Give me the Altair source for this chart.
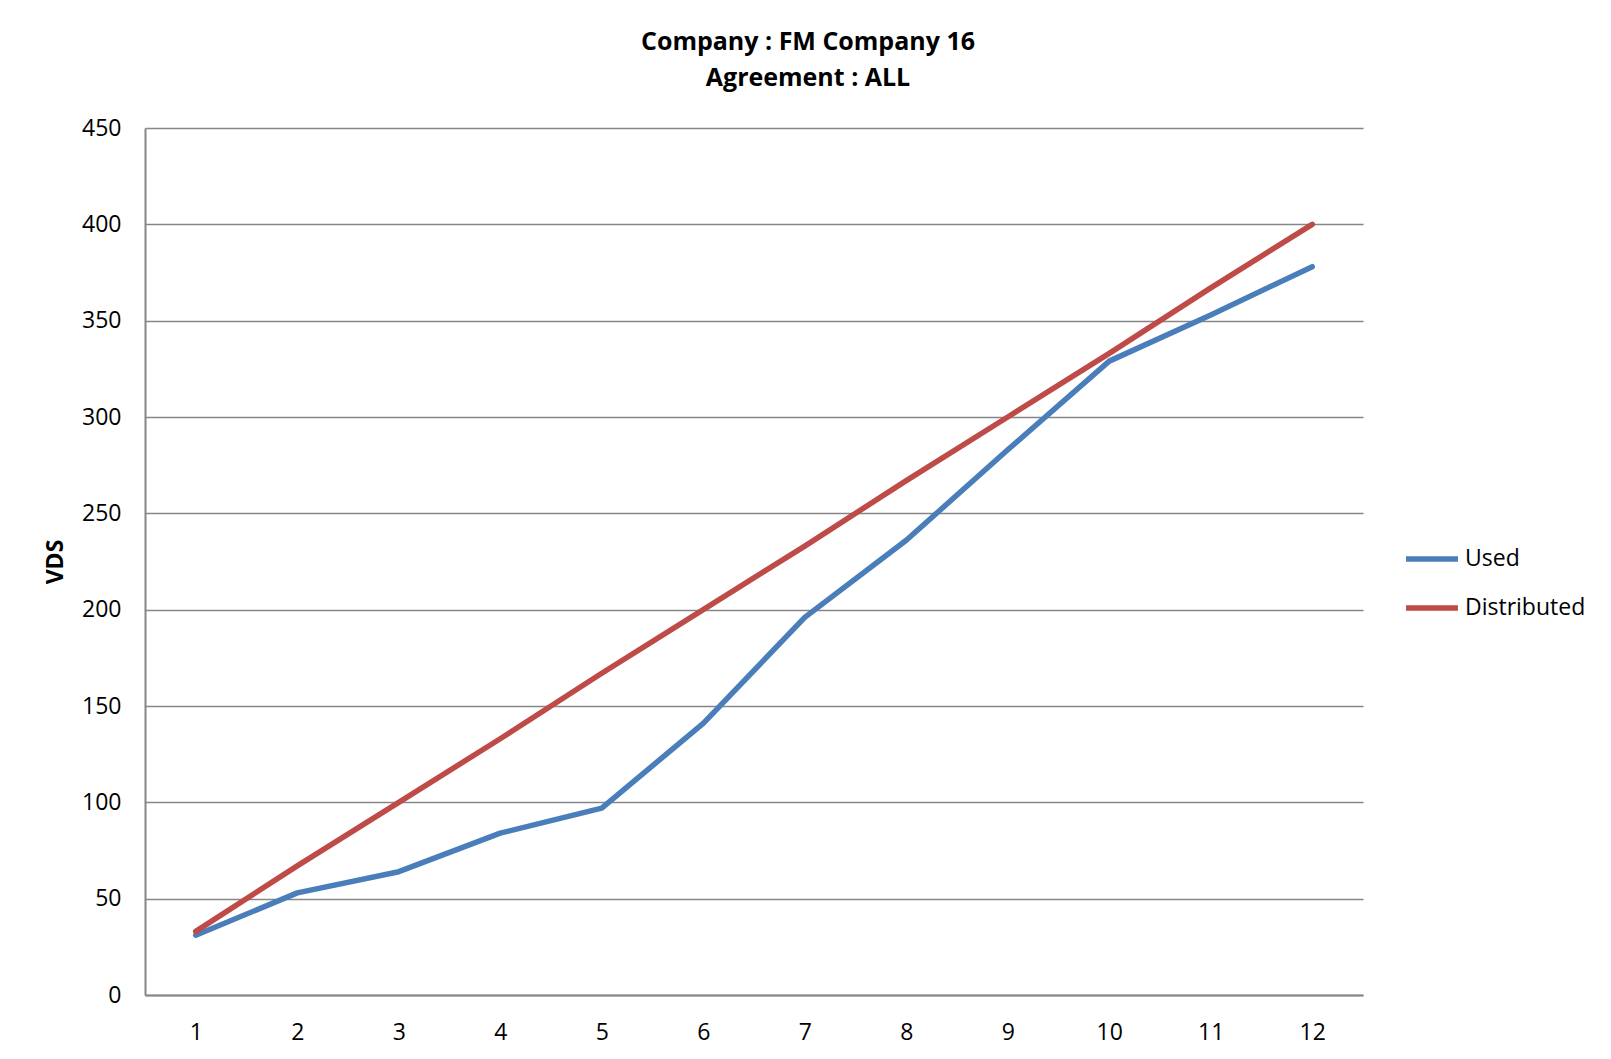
import altair as alt
import pandas as pd

months = [1, 2, 3, 4, 5, 6, 7, 8, 9, 10, 11, 12]
used = [31, 53, 64, 84, 97, 141, 196, 236, 283, 329, 353, 378]
distributed = [33, 67, 100, 133, 167, 200, 233, 267, 300, 333, 367, 400]
series_names = ["Used", "Distributed"]
series_colors = ["#4A7EBB", "#BE4B48"]
y_ticks = [0, 50, 100, 150, 200, 250, 300, 350, 400, 450]

rows = []
for m, u, d in zip(months, used, distributed):
    rows.append({"month": m, "series": "Used", "value": u})
    rows.append({"month": m, "series": "Distributed", "value": d})
df = pd.DataFrame(rows)

FONT = "Open Sans"

chart = (
    alt.Chart(df)
    .mark_line(strokeWidth=5.5, strokeCap="round", strokeJoin="round")
    .encode(
        x=alt.X(
            "month:O",
            title=None,
            sort=months,
            scale=alt.Scale(type="point", padding=0.5),
            axis=alt.Axis(
                labelAngle=0,
                ticks=False,
                grid=False,
                domainColor="#868686",
                domainWidth=2,
                labelFont=FONT,
                labelFontSize=23,
                labelColor="#000000",
                labelPadding=26,
            ),
        ),
        y=alt.Y(
            "value:Q",
            title="VDS",
            scale=alt.Scale(domain=[0, 450], nice=False, zero=True),
            axis=alt.Axis(
                values=y_ticks,
                ticks=False,
                grid=True,
                gridColor="#868686",
                gridWidth=1.5,
                domainColor="#868686",
                domainWidth=2,
                labelFont=FONT,
                labelFontSize=23,
                labelColor="#000000",
                labelPadding=24,
                titleFont=FONT,
                titleFontSize=23,
                titleFontWeight="bold",
                titleColor="#000000",
                titlePadding=14,
            ),
        ),
        color=alt.Color(
            "series:N",
            sort=series_names,
            scale=alt.Scale(domain=series_names, range=series_colors),
            legend=alt.Legend(
                title=None,
                orient="none",
                legendX=1258,
                legendY=402,
                symbolType="stroke",
                symbolStrokeWidth=5.5,
                symbolSize=2704,
                labelFont=FONT,
                labelFontSize=23,
                labelColor="#000000",
                labelOffset=4,
                rowPadding=8,
            ),
        ),
        detail="series:N",
    )
    .properties(
        width=1218,
        height=867,
        autosize=alt.AutoSizeParams(type="none"),
        padding={"left": 137, "top": 120, "right": 240, "bottom": 60},
        background="#ffffff",
        title=alt.Title(
            text=["Company : FM Company 16", "Agreement : ALL"],
            font=FONT,
            fontSize=25,
            fontWeight="bold",
            color="#000000",
            anchor="middle",
            frame="group",
            dx=54,
            offset=26,
            lineHeight=36,
        ),
    )
    .configure_view(stroke=None)
)

chart.save("out.html", embed_options={"renderer": "svg", "actions": False})
